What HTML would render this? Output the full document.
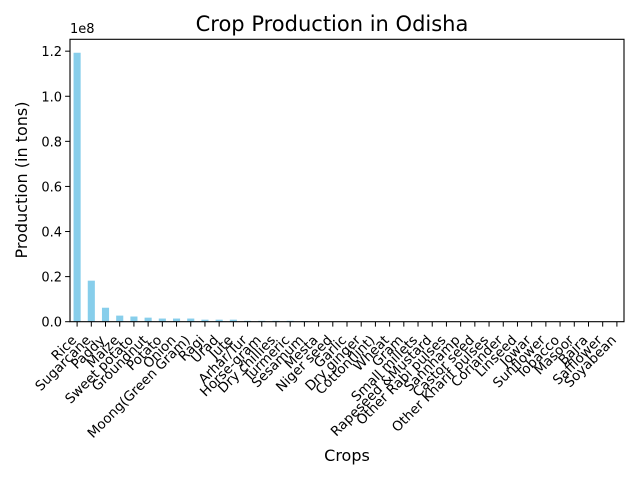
<!DOCTYPE html>
<html><head><meta charset="utf-8"><style>
html,body{margin:0;padding:0;background:#fff;}
svg{display:block;font-family:"DejaVu Sans","Liberation Sans",sans-serif;}
</style></head><body>
<svg id="chart" width="640" height="480">
<rect width="640" height="480" fill="#fff"/>
<text x="332" y="31" font-size="21" text-anchor="middle">Crop Production in Odisha</text>
<text x="347" y="461" font-size="16" text-anchor="middle">Crops</text>
<text transform="translate(27,180) rotate(-90)" font-size="16" text-anchor="middle">Production (in tons)</text>
<text x="70" y="33" font-size="13">1e8</text>
<g id="bars"></g>
<g id="xticks"></g>
<g id="yticks"></g>
<rect x="70" y="39.3" width="554" height="282.4" fill="none" stroke="#000" stroke-width="1.1"/>
</svg>
<script>
const categories = ["Rice","Sugarcane","Paddy","Maize","Sweet potato","Groundnut","Potato","Onion","Moong(Green Gram)","Ragi","Urad","Jute","Arhar/Tur","Horse-gram","Dry chillies","Turmeric","Sesamum","Mesta","Niger seed","Garlic","Dry ginger","Cotton(lint)","Wheat","Gram","Small millets","Rapeseed &Mustard","Other  Rabi pulses","Sannhamp","Castor seed","Other Kharif pulses","Coriander","Linseed","Jowar","Sunflower","Tobacco","Masoor","Bajra","Safflower","Soyabean"];
const production = [1.193,0.182,0.062,0.027,0.023,0.018,0.014,0.014,0.014,0.009,0.009,0.009,0.004,0.004,0.004,0.004,0.003,0.001,0.001,0.0008,0.0006,0.0005,0.0004,0.0003,0.0003,0.0003,0.0002,0.0002,0.0002,0.0002,0.0001,0.0001,0.0001,0.0001,0.00005,0.00005,0.00003,0.00002,0.00001];
const yTicks = [0,0.2,0.4,0.6,0.8,1.0,1.2];
const yTickLabels = ["0.0","0.2","0.4","0.6","0.8","1.0","1.2"];

const L=70,R=624,T=39.3,B=321.7;
const ymax=Math.max(...production)*1.05;
const step=(R-L)/categories.length;
const xs=i=>L+(i+0.5)*step;
const ys=v=>B-v/ymax*(B-T);
const NS="http://www.w3.org/2000/svg";
const bars=document.getElementById('bars'),xt=document.getElementById('xticks'),yt=document.getElementById('yticks');
production.forEach((v,i)=>{
  const r=document.createElementNS(NS,'rect');
  r.setAttribute('x',xs(i)-step/4);r.setAttribute('width',step/2);
  r.setAttribute('y',ys(v));r.setAttribute('height',B-ys(v));
  r.setAttribute('fill','#87ceeb');
  
  
  bars.appendChild(r);
});
categories.forEach((c,i)=>{
  const x=xs(i);
  const l=document.createElementNS(NS,'line');
  l.setAttribute('x1',x);l.setAttribute('x2',x);l.setAttribute('y1',B);l.setAttribute('y2',B+4.9);
  l.setAttribute('stroke','#000');l.setAttribute('stroke-width','1');
  
  
  xt.appendChild(l);
  const t=document.createElementNS(NS,'text');
  t.setAttribute('transform','translate('+(x-7)+','+(B+12)+') rotate(-45)');
  t.setAttribute('text-anchor','end');t.setAttribute('font-size','13.5');t.setAttribute('dy','0.75em');
  t.textContent=c;
  
  
  xt.appendChild(t);
});
yTicks.forEach((v,i)=>{
  const y=ys(v);
  const l=document.createElementNS(NS,'line');
  l.setAttribute('x1',L-4.9);l.setAttribute('x2',L);l.setAttribute('y1',y);l.setAttribute('y2',y);
  l.setAttribute('stroke','#000');l.setAttribute('stroke-width','1');
  
  
  yt.appendChild(l);
  const t=document.createElementNS(NS,'text');
  t.setAttribute('x',L-8);t.setAttribute('y',y+5);t.setAttribute('text-anchor','end');t.setAttribute('font-size','13');
  t.textContent=yTickLabels[i];
  
  
  yt.appendChild(t);
});
</script>
</body></html>
